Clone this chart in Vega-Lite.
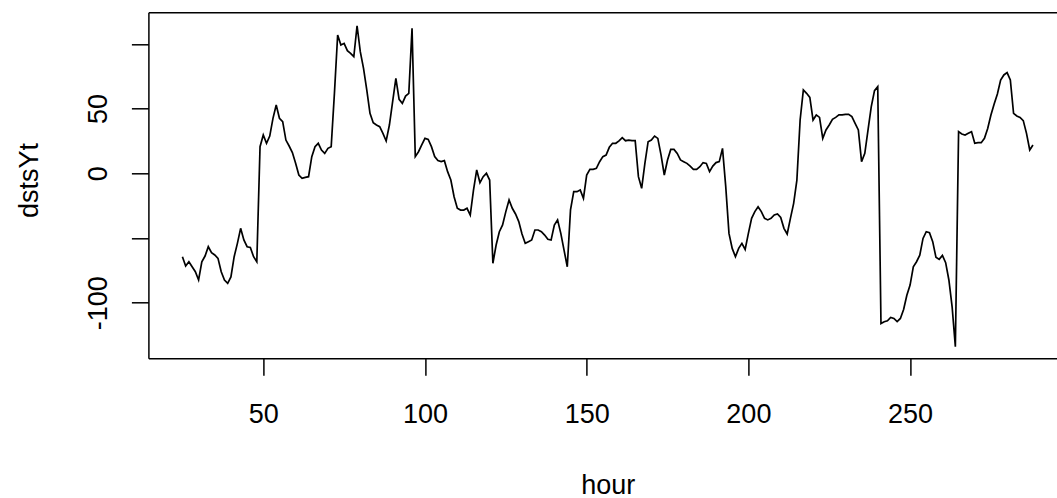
{
  "$schema": "https://vega.github.io/schema/vega-lite/v6.json",
  "autosize": {"type": "none"},
  "padding": {"left": 148.4, "top": 12.3, "right": 0, "bottom": 139.7},
  "width": 908.6,
  "height": 346,
  "background": "white",
  "config": {
    "view": {"stroke": null},
    "axis": {
      "labelFont": "Liberation Sans", "titleFont": "Liberation Sans",
      "labelFontSize": 27, "titleFontSize": 27,
      "labelColor": "black", "titleColor": "black", "titleFontWeight": "normal",
      "grid": false, "tickColor": "black", "tickWidth": 1.5,
      "domainColor": "black", "domainWidth": 1.5, "tickSize": 17
    }
  },
  "data": {"values": [
    {"hour":25,"dstsYt":-64.4},{"hour":26,"dstsYt":-71.6},{"hour":27,"dstsYt":-68.3},{"hour":28,"dstsYt":-72.2},{"hour":29,"dstsYt":-76},
    {"hour":30,"dstsYt":-82.4},{"hour":31,"dstsYt":-68.3},{"hour":32,"dstsYt":-63.9},{"hour":33,"dstsYt":-56.7},{"hour":34,"dstsYt":-61.3},
    {"hour":35,"dstsYt":-63.1},{"hour":36,"dstsYt":-65.7},{"hour":37,"dstsYt":-76},{"hour":38,"dstsYt":-82.4},{"hour":39,"dstsYt":-85},
    {"hour":40,"dstsYt":-80},{"hour":41,"dstsYt":-64.4},{"hour":42,"dstsYt":-54.1},{"hour":43,"dstsYt":-42.5},{"hour":44,"dstsYt":-51.5},
    {"hour":45,"dstsYt":-56.7},{"hour":46,"dstsYt":-57.2},{"hour":47,"dstsYt":-64.4},{"hour":48,"dstsYt":-68.3},{"hour":49,"dstsYt":20.6},
    {"hour":50,"dstsYt":29.6},{"hour":51,"dstsYt":23.2},{"hour":52,"dstsYt":28.8},{"hour":53,"dstsYt":42.5},{"hour":54,"dstsYt":52.8},
    {"hour":55,"dstsYt":42.5},{"hour":56,"dstsYt":39.9},{"hour":57,"dstsYt":25.7},{"hour":58,"dstsYt":21.1},{"hour":59,"dstsYt":16},
    {"hour":60,"dstsYt":7.7},{"hour":61,"dstsYt":-1.3},{"hour":62,"dstsYt":-3.9},{"hour":63,"dstsYt":-3.1},{"hour":64,"dstsYt":-2.6},
    {"hour":65,"dstsYt":12.9},{"hour":66,"dstsYt":20.6},{"hour":67,"dstsYt":23.2},{"hour":68,"dstsYt":18},{"hour":69,"dstsYt":15.4},
    {"hour":70,"dstsYt":19.3},{"hour":71,"dstsYt":20.6},{"hour":72,"dstsYt":61.8},{"hour":73,"dstsYt":106.9},{"hour":74,"dstsYt":99.1},
    {"hour":75,"dstsYt":100.4},{"hour":76,"dstsYt":94.8},{"hour":77,"dstsYt":92.7},{"hour":78,"dstsYt":90.1},{"hour":79,"dstsYt":114},
    {"hour":80,"dstsYt":94},{"hour":81,"dstsYt":81.1},{"hour":82,"dstsYt":64.4},{"hour":83,"dstsYt":46.3},{"hour":84,"dstsYt":39.1},
    {"hour":85,"dstsYt":37.3},{"hour":86,"dstsYt":36},{"hour":87,"dstsYt":30.9},{"hour":88,"dstsYt":25},{"hour":89,"dstsYt":37.3},
    {"hour":90,"dstsYt":55.4},{"hour":91,"dstsYt":73.4},{"hour":92,"dstsYt":57.1},{"hour":93,"dstsYt":54.1},{"hour":94,"dstsYt":59.7},
    {"hour":95,"dstsYt":61.8},{"hour":96,"dstsYt":112},{"hour":97,"dstsYt":12.9},{"hour":98,"dstsYt":16.7},{"hour":99,"dstsYt":21.9},
    {"hour":100,"dstsYt":27},{"hour":101,"dstsYt":26.2},{"hour":102,"dstsYt":20.6},{"hour":103,"dstsYt":12.9},{"hour":104,"dstsYt":9.8},
    {"hour":105,"dstsYt":9},{"hour":106,"dstsYt":9.8},{"hour":107,"dstsYt":1.3},{"hour":108,"dstsYt":-5.2},{"hour":109,"dstsYt":-18.1},
    {"hour":110,"dstsYt":-27},{"hour":111,"dstsYt":-28.4},{"hour":112,"dstsYt":-28.4},{"hour":113,"dstsYt":-27},{"hour":114,"dstsYt":-32.2},
    {"hour":115,"dstsYt":-12.9},{"hour":116,"dstsYt":2.6},{"hour":117,"dstsYt":-7.2},{"hour":118,"dstsYt":-2.6},{"hour":119,"dstsYt":0},
    {"hour":120,"dstsYt":-5.2},{"hour":121,"dstsYt":-69.5},{"hour":122,"dstsYt":-55.4},{"hour":123,"dstsYt":-45.1},{"hour":124,"dstsYt":-39.9},
    {"hour":125,"dstsYt":-29.6},{"hour":126,"dstsYt":-20.6},{"hour":127,"dstsYt":-27},{"hour":128,"dstsYt":-31.4},{"hour":129,"dstsYt":-37.3},
    {"hour":130,"dstsYt":-46.9},{"hour":131,"dstsYt":-54.1},{"hour":132,"dstsYt":-52.8},{"hour":133,"dstsYt":-51.5},{"hour":134,"dstsYt":-43.8},
    {"hour":135,"dstsYt":-43.8},{"hour":136,"dstsYt":-45.1},{"hour":137,"dstsYt":-47.7},{"hour":138,"dstsYt":-51},{"hour":139,"dstsYt":-51.5},
    {"hour":140,"dstsYt":-39.9},{"hour":141,"dstsYt":-36},{"hour":142,"dstsYt":-46.4},{"hour":143,"dstsYt":-59.3},{"hour":144,"dstsYt":-72.2},
    {"hour":145,"dstsYt":-28.3},{"hour":146,"dstsYt":-14.2},{"hour":147,"dstsYt":-14.2},{"hour":148,"dstsYt":-12.9},{"hour":149,"dstsYt":-19.3},
    {"hour":150,"dstsYt":-1.3},{"hour":151,"dstsYt":3.1},{"hour":152,"dstsYt":3.1},{"hour":153,"dstsYt":3.8},{"hour":154,"dstsYt":9},
    {"hour":155,"dstsYt":12.9},{"hour":156,"dstsYt":14.1},{"hour":157,"dstsYt":20.1},{"hour":158,"dstsYt":23.2},{"hour":159,"dstsYt":23.2},
    {"hour":160,"dstsYt":25},{"hour":161,"dstsYt":27.5},{"hour":162,"dstsYt":25.2},{"hour":163,"dstsYt":25.7},{"hour":164,"dstsYt":25.2},
    {"hour":165,"dstsYt":25.2},{"hour":166,"dstsYt":-2.6},{"hour":167,"dstsYt":-11.6},{"hour":168,"dstsYt":7.7},{"hour":169,"dstsYt":24.4},
    {"hour":170,"dstsYt":25.7},{"hour":171,"dstsYt":28.8},{"hour":172,"dstsYt":27},{"hour":173,"dstsYt":14.1},{"hour":174,"dstsYt":-1.3},
    {"hour":175,"dstsYt":10.3},{"hour":176,"dstsYt":18.5},{"hour":177,"dstsYt":18.5},{"hour":178,"dstsYt":15.4},{"hour":179,"dstsYt":10.3},
    {"hour":180,"dstsYt":9},{"hour":181,"dstsYt":7.7},{"hour":182,"dstsYt":5.6},{"hour":183,"dstsYt":3.1},{"hour":184,"dstsYt":3.1},
    {"hour":185,"dstsYt":5.1},{"hour":186,"dstsYt":8.3},{"hour":187,"dstsYt":7.7},{"hour":188,"dstsYt":1.3},{"hour":189,"dstsYt":5.6},
    {"hour":190,"dstsYt":8.3},{"hour":191,"dstsYt":9},{"hour":192,"dstsYt":19.3},{"hour":193,"dstsYt":-10.3},{"hour":194,"dstsYt":-46.4},
    {"hour":195,"dstsYt":-58},{"hour":196,"dstsYt":-64.4},{"hour":197,"dstsYt":-58},{"hour":198,"dstsYt":-54.1},{"hour":199,"dstsYt":-58.8},
    {"hour":200,"dstsYt":-46.4},{"hour":201,"dstsYt":-34.8},{"hour":202,"dstsYt":-29.6},{"hour":203,"dstsYt":-25.8},{"hour":204,"dstsYt":-29.6},
    {"hour":205,"dstsYt":-34.8},{"hour":206,"dstsYt":-36},{"hour":207,"dstsYt":-34.8},{"hour":208,"dstsYt":-32.2},{"hour":209,"dstsYt":-31.4},
    {"hour":210,"dstsYt":-34.1},{"hour":211,"dstsYt":-42.5},{"hour":212,"dstsYt":-46.9},{"hour":213,"dstsYt":-34.8},{"hour":214,"dstsYt":-23.2},
    {"hour":215,"dstsYt":-5.2},{"hour":216,"dstsYt":41.2},{"hour":217,"dstsYt":64.4},{"hour":218,"dstsYt":61.8},{"hour":219,"dstsYt":58.7},
    {"hour":220,"dstsYt":41.2},{"hour":221,"dstsYt":45.1},{"hour":222,"dstsYt":43.2},{"hour":223,"dstsYt":27},{"hour":224,"dstsYt":33.5},
    {"hour":225,"dstsYt":37.3},{"hour":226,"dstsYt":41.7},{"hour":227,"dstsYt":43.2},{"hour":228,"dstsYt":45.1},{"hour":229,"dstsYt":45.1},
    {"hour":230,"dstsYt":45.6},{"hour":231,"dstsYt":45.6},{"hour":232,"dstsYt":43.8},{"hour":233,"dstsYt":38.6},{"hour":234,"dstsYt":33.5},
    {"hour":235,"dstsYt":9},{"hour":236,"dstsYt":15.4},{"hour":237,"dstsYt":33.5},{"hour":238,"dstsYt":51.5},{"hour":239,"dstsYt":63.9},
    {"hour":240,"dstsYt":67},{"hour":241,"dstsYt":-116},{"hour":242,"dstsYt":-114.6},{"hour":243,"dstsYt":-113.9},{"hour":244,"dstsYt":-111.3},
    {"hour":245,"dstsYt":-112.1},{"hour":246,"dstsYt":-114.6},{"hour":247,"dstsYt":-112.1},{"hour":248,"dstsYt":-105.2},{"hour":249,"dstsYt":-94.2},
    {"hour":250,"dstsYt":-86.3},{"hour":251,"dstsYt":-72.2},{"hour":252,"dstsYt":-68.3},{"hour":253,"dstsYt":-63.2},{"hour":254,"dstsYt":-50.3},
    {"hour":255,"dstsYt":-45.1},{"hour":256,"dstsYt":-45.9},{"hour":257,"dstsYt":-52.8},{"hour":258,"dstsYt":-64.9},{"hour":259,"dstsYt":-66.5},
    {"hour":260,"dstsYt":-63.4},{"hour":261,"dstsYt":-69},{"hour":262,"dstsYt":-82.4},{"hour":263,"dstsYt":-103.1},{"hour":264,"dstsYt":-134},
    {"hour":265,"dstsYt":32.2},{"hour":266,"dstsYt":30.4},{"hour":267,"dstsYt":29.6},{"hour":268,"dstsYt":30.9},{"hour":269,"dstsYt":32.2},
    {"hour":270,"dstsYt":23.2},{"hour":271,"dstsYt":23.7},{"hour":272,"dstsYt":23.7},{"hour":273,"dstsYt":27},{"hour":274,"dstsYt":34.7},
    {"hour":275,"dstsYt":45.1},{"hour":276,"dstsYt":53.6},{"hour":277,"dstsYt":61.3},{"hour":278,"dstsYt":72.1},{"hour":279,"dstsYt":76},
    {"hour":280,"dstsYt":77.8},{"hour":281,"dstsYt":72.1},{"hour":282,"dstsYt":46.3},{"hour":283,"dstsYt":44.3},{"hour":284,"dstsYt":43.2},
    {"hour":285,"dstsYt":40.7},{"hour":286,"dstsYt":30.9},{"hour":287,"dstsYt":18},{"hour":288,"dstsYt":21.9}
  ]},
  "layer": [
    {
      "mark": {"type": "line", "color": "black", "strokeWidth": 1.7},
      "encoding": {
        "x": {
          "field": "hour", "type": "quantitative",
          "scale": {"domain": [14.48, 295.43], "nice": false, "zero": false},
          "axis": {
            "orient": "bottom", "values": [50, 100, 150, 200, 250],
            "labelExpr": "'' + datum.value",
            "labelBaseline": "alphabetic", "labelPadding": 47.4,
            "labelFlush": false, "labelOverlap": false,
            "title": "hour", "titleX": 459.3, "titleY": 134.7,
            "titleBaseline": "alphabetic", "titleAlign": "center", "titleAnchor": null
          }
        },
        "y": {
          "field": "dstsYt", "type": "quantitative",
          "scale": {"domain": [-142.9, 124.4], "nice": false, "zero": false},
          "axis": {
            "orient": "left",
            "values": [-100, -50, 0, 50, 100],
            "labelExpr": "datum.value == -50 || datum.value == 100 ? '' : '' + datum.value",
            "labelAngle": -90, "labelAlign": "center", "labelBaseline": "alphabetic",
            "labelPadding": 24.4, "labelFlush": false, "labelOverlap": false,
            "title": "dstsYt", "titleAngle": -90, "titleBaseline": "alphabetic",
            "titleAlign": "center", "titleX": -110.4, "titleY": 167.7, "titleAnchor": null
          }
        }
      }
    },
    {
      "mark": {"type": "line", "strokeOpacity": 0},
      "encoding": {
        "x": {
          "field": "hour", "type": "quantitative",
          "scale": {"domain": [14.48, 295.43], "nice": false, "zero": false},
          "axis": {"orient": "top", "ticks": false, "labels": false, "title": null, "domain": true}
        },
        "y": {
          "field": "dstsYt", "type": "quantitative"
        }
      }
    }
  ],
  "resolve": {"axis": {"x": "independent"}}
}
